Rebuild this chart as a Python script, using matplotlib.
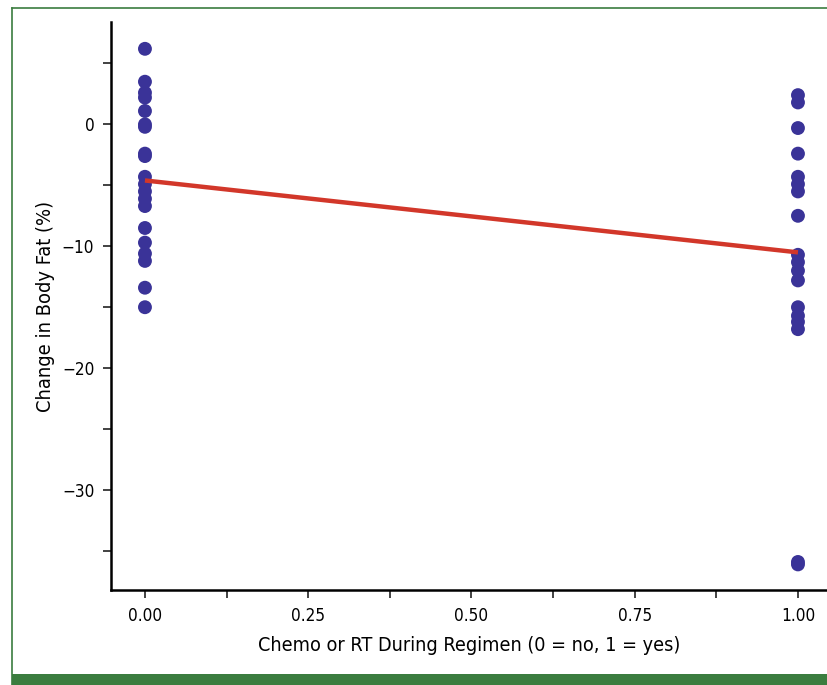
#!/usr/bin/env python3
import numpy as np
import matplotlib
matplotlib.use("Agg")
import matplotlib.pyplot as plt
from matplotlib import font_manager
from matplotlib.patches import Rectangle
from matplotlib.lines import Line2D
from matplotlib.ticker import MultipleLocator

# change in body fat (%) per patient, grouped by chemo/RT during regimen
no_treatment = [6.2, 3.5, 2.6, 2.2, 1.1, 0.0, -0.2, -2.4, -2.6, -4.3, -4.9, -5.5,
                -6.1, -6.7, -8.5, -9.7, -10.6, -11.2, -13.4, -15.0]
with_treatment = [2.4, 1.8, -0.3, -2.4, -4.3, -4.9, -5.5, -7.5, -10.7, -11.3,
                  -12.0, -12.8, -15.0, -15.7, -16.2, -16.8, -35.9, -36.1]

# fitted regression line
fit_x = [0.0, 1.0]
fit_y = [-4.6, -10.5]

x_ticks = [0.0, 0.25, 0.5, 0.75, 1.0]
x_tick_labels = ["0.00", "0.25", "0.50", "0.75", "1.00"]
y_ticks = [0, -10, -20, -30]
y_tick_labels = ["0", "\u221210", "\u221220", "\u221230"]

DOT = "#3a3398"
LINE = "#d2372a"
GREEN = "#3b7d3f"

# look for a condensed sans face, the original uses a narrow Helvetica
narrow = [f for f in font_manager.fontManager.ttflist
          if f.stretch in ("condensed", "semi-condensed", "extra-condensed")
          or "Narrow" in f.name or "Condensed" in f.name]
if narrow:
    plt.rcParams["font.family"] = [narrow[0].name, "DejaVu Sans"]
    plt.rcParams["font.stretch"] = narrow[0].stretch
    scale = 1.0
else:
    plt.rcParams["font.family"] = ["Liberation Sans", "DejaVu Sans"]
    scale = 0.88

fig = plt.figure(figsize=(8.28, 6.85), dpi=100)
ax = fig.add_axes([111 / 828, 1 - 590 / 685, 1 - 111 / 828, (590 - 22) / 685])

xs = np.concatenate([np.zeros(len(no_treatment)), np.ones(len(with_treatment))])
ys = np.concatenate([no_treatment, with_treatment])
ax.scatter(xs, ys, s=100, color=DOT, edgecolors="none", zorder=3, clip_on=False)
ax.plot(fit_x, fit_y, color=LINE, linewidth=3.2, solid_capstyle="butt", zorder=4)

ax.set_xlim(-0.052, 1.046)
ax.set_ylim(-38.2, 8.4)

ax.set_xticks(x_ticks)
ax.set_xticklabels(x_tick_labels)
ax.xaxis.set_minor_locator(MultipleLocator(0.125))
ax.set_yticks(y_ticks)
ax.set_yticklabels(y_tick_labels)
ax.yaxis.set_minor_locator(MultipleLocator(5))

ax.tick_params(axis="both", which="both", direction="out", length=6, width=1.2,
               labelsize=12.3 * scale, pad=6, color="#222222")

for side in ("top", "right"):
    ax.spines[side].set_visible(False)
for side in ("left", "bottom"):
    ax.spines[side].set_linewidth(1.8)

ax.set_xlabel("Chemo or RT During Regimen (0 = no, 1 = yes)", fontsize=14.2 * scale, labelpad=8)
ax.set_ylabel("Change in Body Fat (%)", fontsize=14.4 * scale, labelpad=5)

# green journal frame
fig.add_artist(Line2D([12 / 828, 12 / 828], [0, 1 - 8 / 685], transform=fig.transFigure,
                      color=GREEN, linewidth=1.2))
fig.add_artist(Line2D([12 / 828, 1], [1 - 8 / 685, 1 - 8 / 685], transform=fig.transFigure,
                      color=GREEN, linewidth=1.2))
fig.add_artist(Rectangle((12 / 828, 0), 1, 11 / 685, transform=fig.transFigure,
                         facecolor=GREEN, edgecolor="none"))

fig.savefig("out.png", dpi=100)
